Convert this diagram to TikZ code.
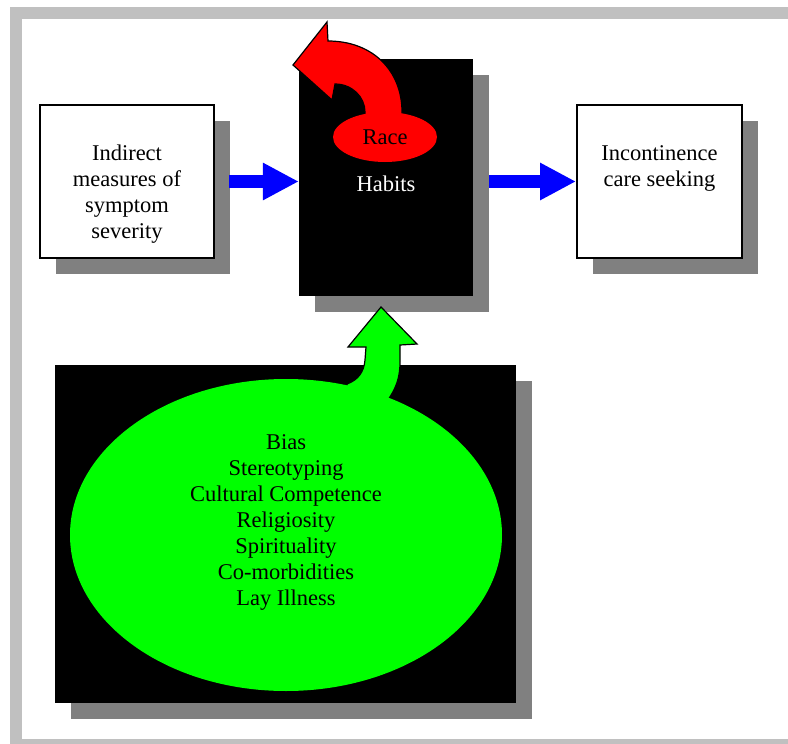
\documentclass[tikz,border=0pt]{standalone}
\usepackage{fontspec}
\setmainfont{Liberation Serif}
\usetikzlibrary{shapes.geometric,shadows,arrows.meta}
\definecolor{framegray}{RGB}{192,192,192}
\definecolor{shadowgray}{RGB}{128,128,128}

\begin{document}
\begin{tikzpicture}[x=1pt,y=-1pt,
        boxshadow/.style={general shadow={fill=shadowgray,draw=none,shadow xshift=16pt,shadow yshift=-16pt}},
        whitebox/.style={rectangle,draw=black,line width=2pt,fill=white,boxshadow},
        blackbox/.style={rectangle,fill=black,boxshadow},
        txt/.style={align=center,inner sep=0pt,font=\fontsize{22.5}{26}\selectfont},
        bluearrow/.style={line width=13pt,draw=blue,-{Triangle[length=36pt 0 0,width=35pt 0 0]}},
        bentarrow/.style={draw=black,line width=1.2pt,line join=miter}]
            \useasboundingbox (0,0) rectangle (788,744);
            \clip (0,0) rectangle (788,744);
            \fill[framegray] (10,7) rectangle (788,19);
            \fill[framegray] (10,19) rectangle (22,744);
            \fill[framegray] (22,739) rectangle (788,744);
            \node[whitebox,minimum width=174pt,minimum height=153pt] (ind) at (127,181.5) {};
            \node[whitebox,minimum width=165pt,minimum height=153pt] (care) at (659.5,181.5) {};
            \node[blackbox,minimum width=174pt,minimum height=237pt] (hab) at (386,177.5) {};
            \node[blackbox,minimum width=461pt,minimum height=338pt] (infl) at (285.5,534) {};
            \node[txt,anchor=north] (indtxt) at (127,145) {Indirect\\measures of\\symptom\\severity};
            \node[txt,anchor=north] (caretxt) at (659.5,145) {Incontinence\\care seeking};
            \node[txt,anchor=base,text=white] (habtxt) at (386,191) {Habits};
            \draw[bluearrow] ([xshift=14pt]ind.east) -- (ind.east -| hab.west);
            \draw[bluearrow] ([xshift=16pt]hab.east |- care.west) -- (care.west);
            \filldraw[bentarrow,fill=red] (402,125) -- (402,112) .. controls (402,70) and (372,41) .. (328,41)
                -- (327,22) -- (293,65) -- (332,100) -- (335,84) .. controls (352,84) and (365,97) .. (365,112)
                -- (365,125) -- cycle;
            \node[ellipse,fill=red,inner sep=0pt,minimum width=104pt,minimum height=50pt,
                font=\fontsize{22.5}{26}\selectfont] (race) at (385,137) {Race};
            \filldraw[bentarrow,fill=green] (381,307) -- (417,344) -- (400,345) -- (400,362)
                .. controls (400,378) and (396,388) .. (388,400) -- (386,410) -- (345,400) -- (347,384)
                .. controls (358,380) and (364,372) .. (365,360) -- (366,347) -- (348,347) -- cycle;
            \node[ellipse,fill=green,inner sep=0pt,minimum width=432pt,minimum height=312pt] (grn) at (286,535) {};
            \node[txt,anchor=north] (grntxt) at (286,434) {Bias\\Stereotyping\\Cultural Competence\\Religiosity\\Spirituality\\Co-morbidities\\Lay Illness};
          \end{tikzpicture}
\end{document}
